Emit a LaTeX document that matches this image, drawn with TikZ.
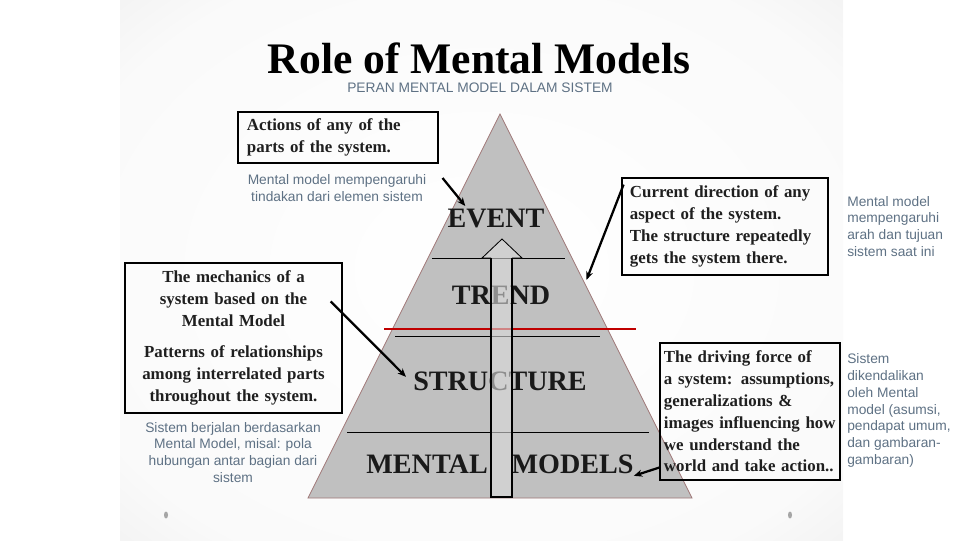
\documentclass[tikz,border=0pt]{standalone}
\usepackage{fontspec}
\setmainfont{Liberation Serif}
\setsansfont{Liberation Sans}
\usetikzlibrary{arrows.meta,positioning}

\definecolor{pyrfill}{HTML}{C0C0C0}
\definecolor{pyredge}{HTML}{A07878}
\definecolor{notegray}{HTML}{5E7184}
\definecolor{redline}{HTML}{C00000}
\definecolor{shaftfill}{HTML}{DCDCDC}
\colorlet{bgmid}{white!98!black}
\colorlet{bgedge}{white!89!black}
\colorlet{bgcorner}{white!83!black}
\pgfdeclareradialshading{slidebg}{\pgfpoint{0bp}{0bp}}{color(0bp)=(white); color(30bp)=(bgmid); color(50bp)=(bgedge); color(71bp)=(bgcorner)}

\begin{document}
\begin{tikzpicture}[
  x=0.025cm, y=-0.025cm,
  lvl/.style={font=\fontsize{20pt}{24pt}\selectfont\bfseries, text=black!90, inner sep=0pt, anchor=base},
  box/.style={draw=black, font=\fontsize{12pt}{15.5pt}\selectfont\bfseries, text=black!88, inner ysep=0pt},
  thickbox/.style={box, line width=2pt},
  thinbox/.style={box, line width=0.8pt},
  note/.style={font=\sffamily\fontsize{9.8pt}{12pt}\selectfont, text=notegray, inner sep=0pt},
  arr/.style={-{Stealth[length=6pt,width=5pt]}, line width=1.6pt},
  tier/.style={line width=0.7pt},
]
\useasboundingbox (0,0) rectangle (960,540);
\shade[shading=slidebg] (120,0) rectangle (843,540);
\fill[gray!70] (166,515) ellipse [x radius=2, y radius=3.5];
\fill[gray!70] (790,515) ellipse [x radius=2, y radius=3.5];

% title
\node[font=\fontsize{31pt}{36pt}\selectfont\bfseries, inner sep=0pt, text depth=0pt, anchor=base] (title) at (479,73) {Role of Mental Models};
\node[font=\sffamily\fontsize{9.8pt}{12pt}\selectfont, text=notegray, inner sep=0pt, anchor=base] (subtitle) at (480,92) {PERAN MENTAL MODEL DALAM SISTEM};

% pyramid
\draw[draw=pyredge, fill=pyrfill, line width=0.6pt] (500,114) -- (692,498) -- (308,498) -- cycle;
\draw[tier] (432,258) -- (565,258);
\draw[tier] (395,336) -- (600,336);
\draw[tier] (347,432) -- (649,432);
\node[lvl] (event) at (496,227) {EVENT};
\node[lvl] (trend) at (501,304) {TREND};
\node[lvl] (structure) at (500,390) {STRUCTURE};
\node[lvl] (models) at (500,473) {MENTAL\hspace{17pt}MODELS};
\draw[redline, line width=2pt] (384,329) -- (636,329);
\fill[shaftfill, fill opacity=0.6] (491,497) -- (491,258) -- (482,258) -- (502,239) -- (522,258) -- (512,258) -- (512,497) -- cycle;
\draw[line width=0.6pt] (491,258) -- (482,258) -- (502,239) -- (522,258) -- (512,258);
\draw[line width=1.6pt] (491,258) -- (491,497) -- (512,497) -- (512,258);

% boxes
\node[thickbox, text width=4.55cm, inner xsep=0.225cm, minimum height=1.275cm, align=left] (actions) at (338,137.5) {Actions of any of the\\parts of the system.};
\node[thinbox, text width=5.125cm, inner xsep=0.15cm, minimum height=3.75cm, align=center] (mechanics) at (233.5,338) {The mechanics of a\\system based on the\\Mental Model\\[7pt]Patterns of relationships\\among interrelated parts\\throughout the system.};
\node[thickbox, text width=4.75cm, inner xsep=0.2cm, minimum height=2.425cm, align=left] (direction) at (725,226.5) {Current direction of any\\aspect of the system.\\The structure repeatedly\\gets the system there.};
\node[thinbox, text width=4.3cm, inner xsep=0.1cm, minimum height=3.425cm, align=left] (driving) at (750,411.5) {The driving force of\\a system: assumptions,\\generalizations \&\\images influencing how\\we understand the\\world and take action..};

% notes
\node[note, align=center] (noteaction) at (337,188) {Mental model mempengaruhi\\tindakan dari elemen sistem};
\node[note, align=center] (notemech) at (233,452.5) {Sistem berjalan berdasarkan\\Mental Model, misal: pola\\hubungan antar bagian dari\\sistem};
\node[note, align=left, anchor=west] (notedir) at (847,226.5) {Mental model\\mempengaruhi\\arah dan tujuan\\sistem saat ini};
\node[note, align=left, anchor=west] (notedrive) at (847,410.5) {Sistem\\dikendalikan\\oleh Mental\\model (asumsi,\\pendapat umum,\\dan gambaran-\\gambaran)};

% pointers
\draw[arr] ([shift={(16,-10)}]noteaction.east) -- ([shift={(18,-12)}]event.west);
\draw[arr] ([shift={(3,8)}]direction.north west) -- ([shift={(36,-15)}]trend.east);
\draw[arr] ([shift={(-12,39)}]mechanics.north east) -- ([shift={(-7,-4)}]structure.west);
\draw[arr] ([shift={(0,56)}]driving.west) -- ([shift={(0,12)}]models.east);
\end{tikzpicture}
\end{document}
